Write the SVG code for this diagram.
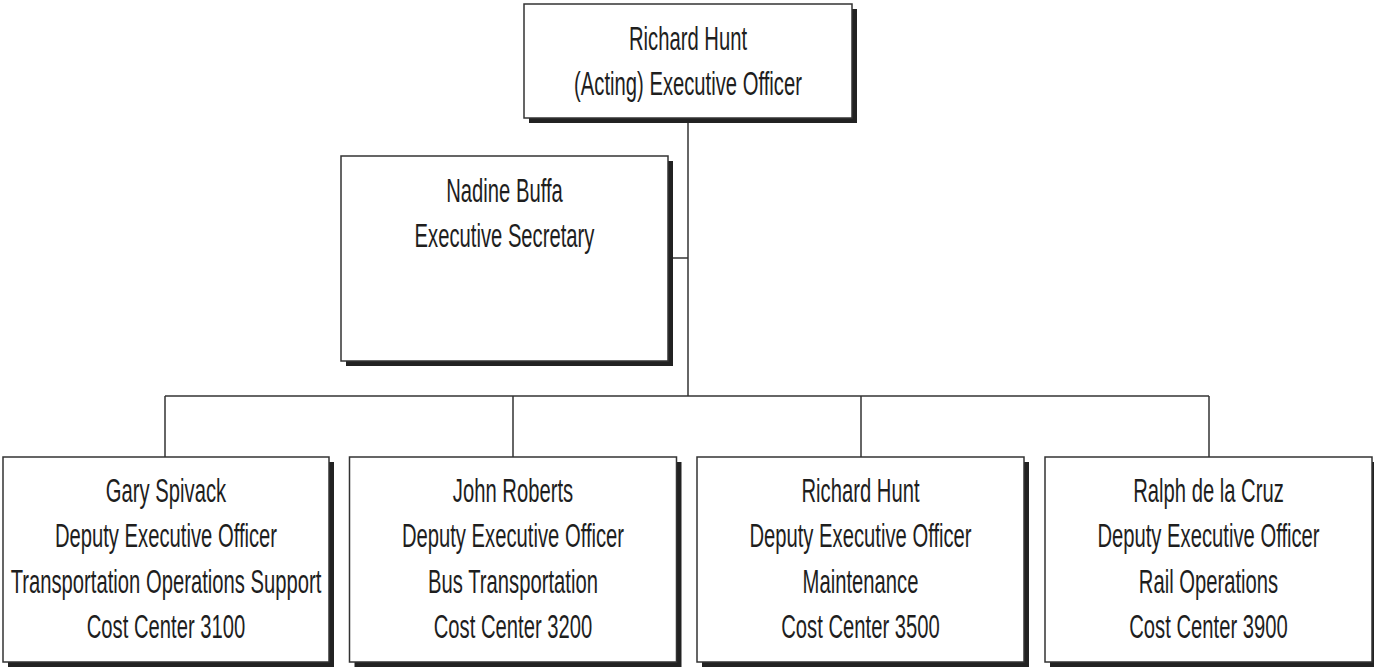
<svg xmlns="http://www.w3.org/2000/svg" width="1374" height="669" viewBox="0 0 1374 669">
<style>
.box{fill:#fff;stroke:#333;stroke-width:1.5}
.shadow{fill:#222}
.conn{stroke:#333;stroke-width:1.5;fill:none}
.t{font-family:"Liberation Sans",Arial,sans-serif;font-size:34px;fill:#1e1e1e;text-anchor:middle}
</style>
<rect width="1374" height="669" fill="#fff"/>
<g id="connectors">
<line class="conn" x1="688" y1="117" x2="688" y2="396"/>
<line class="conn" x1="668" y1="258" x2="688" y2="258"/>
<line class="conn" x1="165" y1="396" x2="1209" y2="396"/>
<line class="conn" x1="165" y1="396" x2="165" y2="457"/>
<line class="conn" x1="513" y1="396" x2="513" y2="457"/>
<line class="conn" x1="861" y1="396" x2="861" y2="457"/>
<line class="conn" x1="1209" y1="396" x2="1209" y2="457"/>
</g>
<g id="node-exec">
<rect class="shadow" x="529" y="9" width="328" height="114"/>
<rect class="box" x="524" y="4" width="328" height="114"/>
<g transform="translate(688,0) scale(0.595,1)">
<text class="t" x="0" y="50">Richard Hunt</text>
<text class="t" x="0" y="95">(Acting) Executive Officer</text>
</g>
</g>
<g id="node-secretary">
<rect class="shadow" x="346" y="161" width="327" height="205"/>
<rect class="box" x="341" y="156" width="327" height="205"/>
<g transform="translate(504.5,0) scale(0.595,1)">
<text class="t" x="0" y="202">Nadine Buffa</text>
<text class="t" x="0" y="247">Executive Secretary</text>
</g>
</g>
<g id="node-3100">
<rect class="shadow" x="8" y="462" width="326" height="205"/>
<rect class="box" x="3" y="457" width="326" height="205"/>
<g transform="translate(166,0) scale(0.595,1)">
<text class="t" x="0" y="502">Gary Spivack</text>
<text class="t" x="0" y="547.5">Deputy Executive Officer</text>
<text class="t" x="0" y="593">Transportation Operations Support</text>
<text class="t" x="0" y="638.5">Cost Center 3100</text>
</g>
</g>
<g id="node-3200">
<rect class="shadow" x="354.5" y="462" width="327" height="205"/>
<rect class="box" x="349.5" y="457" width="327" height="205"/>
<g transform="translate(513,0) scale(0.595,1)">
<text class="t" x="0" y="502">John Roberts</text>
<text class="t" x="0" y="547.5">Deputy Executive Officer</text>
<text class="t" x="0" y="593">Bus Transportation</text>
<text class="t" x="0" y="638.5">Cost Center 3200</text>
</g>
</g>
<g id="node-3500">
<rect class="shadow" x="702" y="462" width="327" height="205"/>
<rect class="box" x="697" y="457" width="327" height="205"/>
<g transform="translate(860.5,0) scale(0.595,1)">
<text class="t" x="0" y="502">Richard Hunt</text>
<text class="t" x="0" y="547.5">Deputy Executive Officer</text>
<text class="t" x="0" y="593">Maintenance</text>
<text class="t" x="0" y="638.5">Cost Center 3500</text>
</g>
</g>
<g id="node-3900">
<rect class="shadow" x="1050" y="462" width="327" height="205"/>
<rect class="box" x="1045" y="457" width="327" height="205"/>
<g transform="translate(1208.5,0) scale(0.595,1)">
<text class="t" x="0" y="502">Ralph de la Cruz</text>
<text class="t" x="0" y="547.5">Deputy Executive Officer</text>
<text class="t" x="0" y="593">Rail Operations</text>
<text class="t" x="0" y="638.5">Cost Center 3900</text>
</g>
</g>
</svg>
